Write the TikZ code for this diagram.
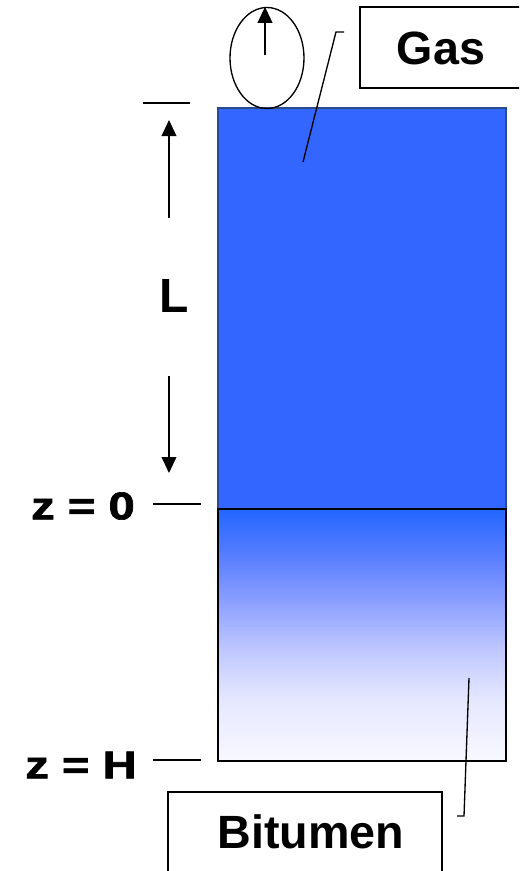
\documentclass[tikz,border=0pt]{standalone}
\usepackage{fontspec}
\setmainfont{Liberation Sans}
\newfontfamily\zfont[FakeBold=1.6]{Liberation Sans Bold}
\usetikzlibrary{arrows.meta,positioning,shapes.geometric}
\definecolor{gasblue}{HTML}{3366FF}
\definecolor{gasedge}{HTML}{2B4C8C}
\definecolor{bitA}{HTML}{2266FF}
\definecolor{bitB}{HTML}{5C80FF}
\definecolor{bitC}{HTML}{8A9EFF}
\definecolor{bitD}{HTML}{C0C8FF}
\definecolor{bitE}{HTML}{E6E8FF}
\definecolor{bitF}{HTML}{F8F8FE}
\pgfdeclareverticalshading{bitshade}{100bp}{color(0bp)=(bitF); color(25bp)=(bitF); color(37bp)=(bitE); color(47bp)=(bitD); color(57bp)=(bitC); color(65bp)=(bitB); color(75bp)=(bitA); color(100bp)=(bitA)}
\tikzset{
  gaslayer/.style={fill=gasblue,draw=gasedge,line width=1.2pt,minimum width=216pt,minimum height=300.75pt,inner sep=0pt,anchor=north west},
  bitlayer/.style={draw=black,line width=1.5pt,shade,shading=bitshade,minimum width=216pt,minimum height=189pt,inner sep=0pt,anchor=north west},
  tag/.style={draw=black,line width=1.4pt,fill=white,inner sep=0pt},
  tagtext/.style={inner sep=0pt,font=\fontsize{35}{40}\selectfont\bfseries},
  lab/.style={inner sep=0pt,font=\fontsize{29}{34}\selectfont\zfont},
  arr/.style={-{Triangle[length=12pt,width=11pt]},line width=1.3pt},
  lead/.style={line width=1pt},
  tickline/.style={line width=1pt},
}
\newcommand{\widez}[1]{\scalebox{1.22}[1]{#1}}
\begin{document}
\begin{tikzpicture}[x=0.75pt,y=-0.75pt]
  \useasboundingbox (0,0) rectangle (519,871);
  \clip (0,0) rectangle (519,871);
  % layers
  \node[gaslayer] (gas) at (217,107) {};
  \node[bitlayer] (bit) at (217,508) {};
  % bubble
  \node[draw,ellipse,line width=1pt,minimum width=55.5pt,minimum height=75.75pt,inner sep=0pt] (bubble) at (267,58) {};
  \coordinate (bubtail) at (265,55);
  \draw[arr] (bubtail) -- (bubtail |- bubble.north);
  % labels
  \node[tag,minimum width=127.5pt,minimum height=60.75pt] (gastag) at (445,47.5) {};
  \node[tagtext] (gaslab) at (441,48) {Gas};
  \node[tag,minimum width=205.5pt,minimum height=66pt] (bittag) at (305,836) {};
  \node[tagtext] (bitlab) at (311,832) {Bitumen};
  \coordinate (gaspt) at (303,162);
  \coordinate (gasbend) at (336,32);
  \coordinate (gasend) at (344,32);
  \draw[lead] (gaspt) -- (gasbend) -- (gasend);
  \coordinate (bitpt) at (469,678);
  \coordinate (bitbend) at (464,816);
  \coordinate (bitend) at (457,816);
  \draw[lead] (bitpt) -- (bitbend) -- (bitend);
  % height L
  \node[inner sep=0pt,font=\fontsize{36}{40}\selectfont\bfseries] (len) at (174,296) {L};
  \coordinate (ltop) at (143,103);
  \coordinate (ltopr) at (190,103);
  \draw[tickline] (ltop) -- (ltopr);
  \coordinate (upfrom) at (169,218);
  \coordinate (upto) at (169,120);
  \draw[arr] (upfrom) -- (upto);
  \coordinate (downfrom) at (169,376);
  \coordinate (downto) at (169,473);
  \draw[arr] (downfrom) -- (downto);
  % depth marks
  \node[lab] (zzero) at (83,506) {\widez{z = 0}};
  \node[lab] (zhigh) at (81,765) {\widez{z = H}};
  \coordinate (zzl) at (153,504);
  \coordinate (zzr) at (201,504);
  \draw[tickline] (zzl) -- (zzr);
  \coordinate (zhl) at (153,760);
  \coordinate (zhr) at (201,760);
  \draw[tickline] (zhl) -- (zhr);
\end{tikzpicture}
\end{document}
